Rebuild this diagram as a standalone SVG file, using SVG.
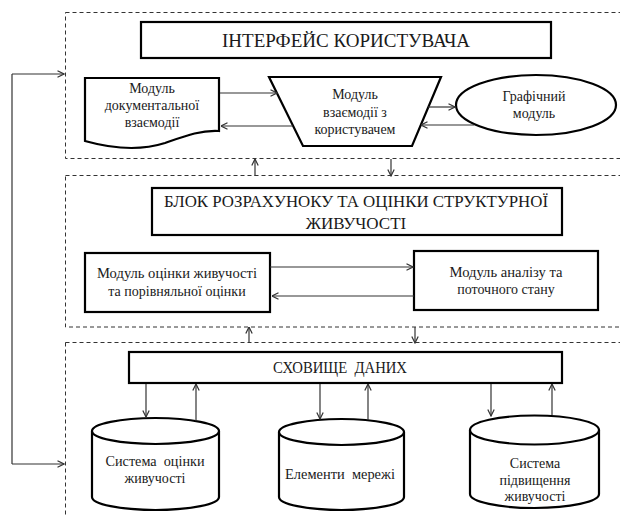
<svg xmlns="http://www.w3.org/2000/svg" width="620" height="515" viewBox="0 0 620 515">
  <style>
    .zone { fill: none; stroke: #333; stroke-width: 1; stroke-dasharray: 4 3; }
    .node { fill: #fff; stroke: #000; stroke-width: 2.2; }
    .conn { fill: none; stroke: #333; stroke-width: 1.2; }
    text { font-family: "Liberation Serif", "Times New Roman", serif; fill: #1a1a1a; text-anchor: middle; }
    .pre { white-space: pre; }
    .t18 { font-size: 18px; }
    .t17 { font-size: 17px; }
    .t14 { font-size: 14px; }
  </style>
  <defs>
    <marker id="arrow" viewBox="0 0 8 8" refX="7.5" refY="4" markerWidth="8" markerHeight="8" markerUnits="userSpaceOnUse" orient="auto">
      <path d="M1,0.8 L7.5,4 L1,7.2" fill="none" stroke="#333" stroke-width="1.2"/>
    </marker>
  </defs>

  <rect width="620" height="515" fill="#fff"/>

  <!-- dashed layer frames -->
  <g id="zones">
    <rect class="zone" x="65.5" y="12.5" width="600" height="146"/>
    <rect class="zone" x="65.5" y="175.5" width="600" height="151.5"/>
    <rect class="zone" x="65.5" y="342.5" width="600" height="200"/>
  </g>

  <!-- user interface layer -->
  <g id="ui-title">
    <rect class="node" x="141" y="22" width="410" height="36"/>
    <text class="t18" x="346" y="47" textLength="248" lengthAdjust="spacingAndGlyphs">ІНТЕРФЕЙС КОРИСТУВАЧА</text>
  </g>
  <g id="doc-module">
    <path class="node" d="M85,78 H219 V131 C200,130 185,136 165,143 C140,151 110,148 85,141 Z"/>
    <text class="t14" x="152" y="93">Модуль</text>
    <text class="t14" x="152" y="110">документальної</text>
    <text class="t14" x="152" y="127">взаємодії</text>
  </g>
  <g id="user-module">
    <polygon class="node" points="269,77 441,77 412,146 303,146"/>
    <text class="t14" x="355" y="99">Модуль</text>
    <text class="t14" x="355" y="117">взаємодії з</text>
    <text class="t14" x="355" y="134">користувачем</text>
  </g>
  <g id="graphic-module">
    <ellipse class="node" cx="536" cy="105" rx="80" ry="30"/>
    <text class="t14" x="534" y="101">Графічний</text>
    <text class="t14" x="534" y="118">модуль</text>
  </g>

  <!-- survivability calculation layer -->
  <g id="calc-title">
    <rect class="node" x="152" y="188" width="410" height="47"/>
    <text class="t17" x="356" y="207" textLength="384" lengthAdjust="spacingAndGlyphs">БЛОК РОЗРАХУНОКУ ТА ОЦІНКИ СТРУКТУРНОЇ</text>
    <text class="t17" x="356" y="229">ЖИВУЧОСТІ</text>
  </g>
  <g id="eval-module">
    <rect class="node" x="85" y="253" width="185" height="59"/>
    <text class="t14" x="177" y="278" textLength="160" lengthAdjust="spacingAndGlyphs">Модуль оцінки живучості</text>
    <text class="t14" x="177" y="296">та порівняльної оцінки</text>
  </g>
  <g id="analysis-module">
    <rect class="node" x="414" y="251" width="184" height="59"/>
    <text class="t14" x="506" y="277" textLength="113" lengthAdjust="spacingAndGlyphs">Модуль аналізу та</text>
    <text class="t14" x="506" y="294">поточного стану</text>
  </g>

  <!-- data storage layer -->
  <g id="storage-title">
    <rect class="node" x="129" y="352" width="433" height="31"/>
    <text class="t17 pre" x="340" y="373" textLength="134" lengthAdjust="spacingAndGlyphs">СХОВИЩЕ  ДАНИХ</text>
  </g>
  <g id="db-eval">
    <path class="node" d="M92,431 V497 A63.5,13 0 0 0 219,497 V431"/>
    <ellipse class="node" cx="155.5" cy="431" rx="63.5" ry="13"/>
    <text class="t14 pre" x="155" y="466" textLength="99" lengthAdjust="spacingAndGlyphs">Система  оцінки</text>
    <text class="t14" x="155" y="483">живучості</text>
  </g>
  <g id="db-network">
    <path class="node" d="M279,432 V497 A62.5,13 0 0 0 404,497 V432"/>
    <ellipse class="node" cx="341.5" cy="432" rx="62.5" ry="13"/>
    <text class="t14 pre" x="340" y="479" textLength="110" lengthAdjust="spacingAndGlyphs">Елементи  мережі</text>
  </g>
  <g id="db-improve">
    <path class="node" d="M470,430 V494 A64.5,14 0 0 0 599,494 V430"/>
    <ellipse class="node" cx="534.5" cy="430" rx="64.5" ry="14.5"/>
    <text class="t14" x="535" y="468">Система</text>
    <text class="t14" x="535" y="485">підвищення</text>
    <text class="t14" x="535" y="501">живучості</text>
  </g>

  <!-- connectors -->
  <g id="connectors">
    <path class="conn" d="M12,74 V464"/>
    <path class="conn" d="M12,74 H64" marker-end="url(#arrow)"/>
    <path class="conn" d="M12,464 H64" marker-end="url(#arrow)"/>

    <path class="conn" d="M220,93 H277" marker-end="url(#arrow)"/>
    <path class="conn" d="M293,126 H221" marker-end="url(#arrow)"/>
    <path class="conn" d="M428,107 H455" marker-end="url(#arrow)"/>
    <path class="conn" d="M474,125 H421" marker-end="url(#arrow)"/>

    <path class="conn" d="M255,176 V159" marker-end="url(#arrow)"/>
    <path class="conn" d="M391,159 V176" marker-end="url(#arrow)"/>

    <path class="conn" d="M270,267 H413" marker-end="url(#arrow)"/>
    <path class="conn" d="M414,296 H272" marker-end="url(#arrow)"/>

    <path class="conn" d="M249,343 V327" marker-end="url(#arrow)"/>
    <path class="conn" d="M415,327 V343" marker-end="url(#arrow)"/>

    <path class="conn" d="M146,384 V417" marker-end="url(#arrow)"/>
    <path class="conn" d="M196,421 V384" marker-end="url(#arrow)"/>
    <path class="conn" d="M320,384 V419" marker-end="url(#arrow)"/>
    <path class="conn" d="M368,420 V384" marker-end="url(#arrow)"/>
    <path class="conn" d="M491,384 V416" marker-end="url(#arrow)"/>
    <path class="conn" d="M552,415 V384" marker-end="url(#arrow)"/>
  </g>
</svg>
